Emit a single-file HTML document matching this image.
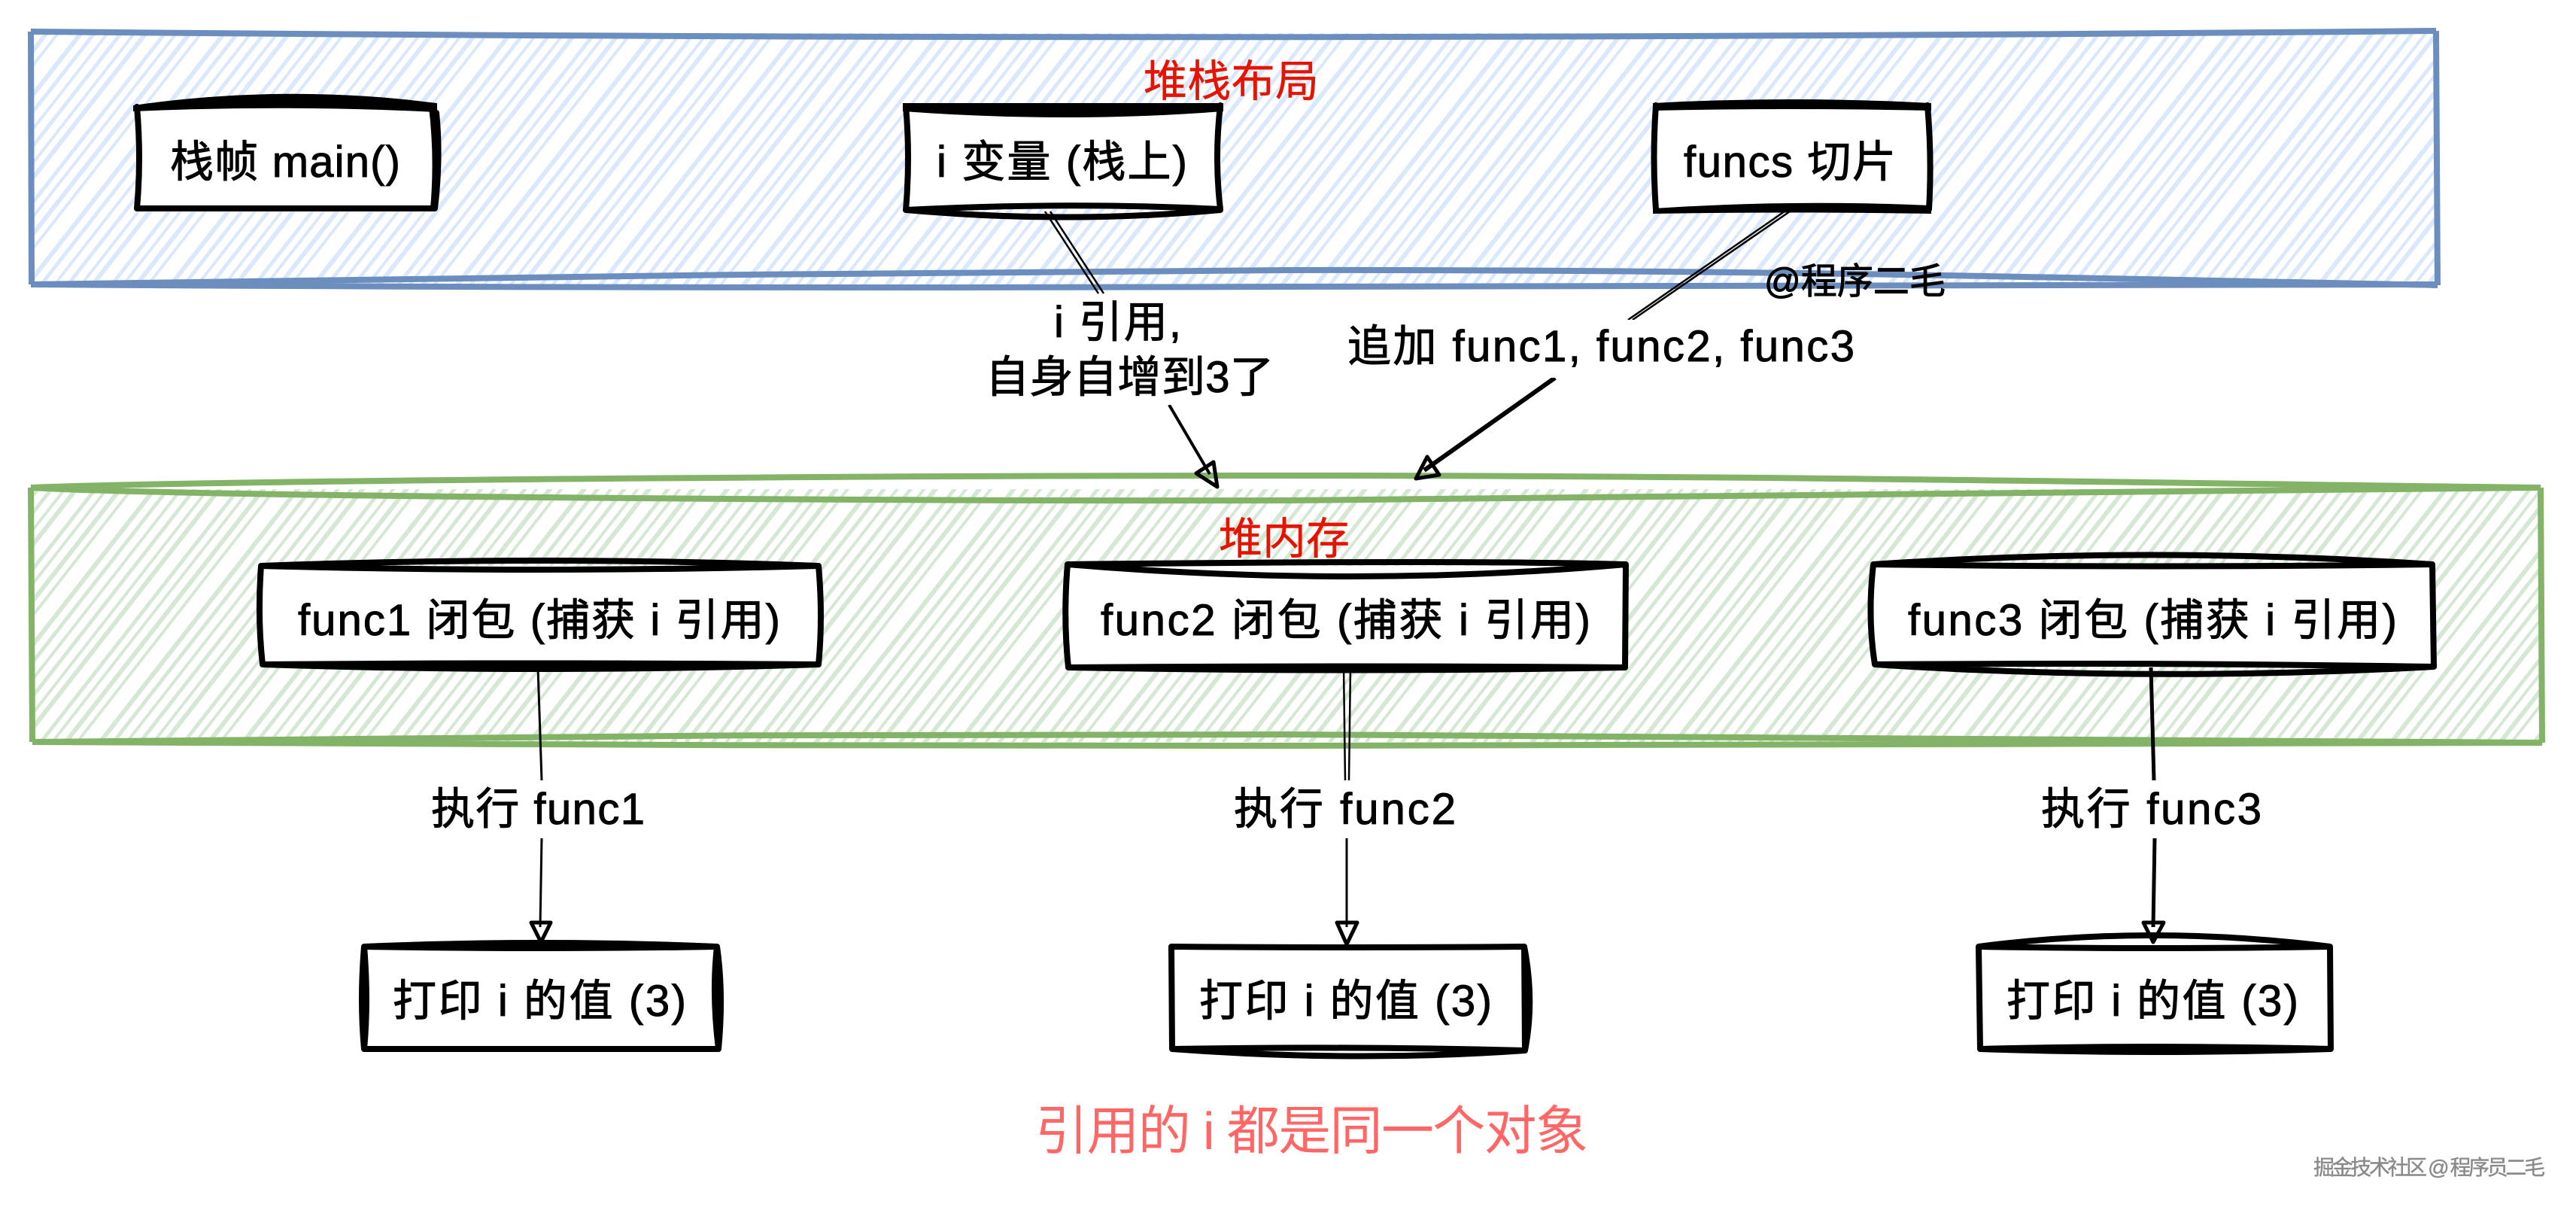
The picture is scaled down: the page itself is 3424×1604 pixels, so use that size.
<!DOCTYPE html>
<html lang="zh">
<head>
<meta charset="utf-8">
<title>堆栈布局</title>
<style>
html,body{margin:0;padding:0;background:#fff;}
svg{display:block;}
text{font-family:"Liberation Sans","Noto Sans CJK SC",sans-serif;fill:#000;stroke:#000;stroke-width:1;font-size:58px;}
.r{fill:#e51400;stroke:#e51400;stroke-width:.5;}
.b{fill:#fff;stroke:none;}
.k{fill:none;stroke:#000;stroke-width:8;stroke-linejoin:round;stroke-linecap:round;}
.t{fill:none;stroke:#000;stroke-width:2.5;}
.a{fill:none;stroke:#000;stroke-width:5;stroke-linejoin:round;}
</style>
</head>
<body>
<svg width="3424" height="1604" viewBox="0 0 3424 1604" xmlns="http://www.w3.org/2000/svg">
<defs>
<pattern id="hb" patternUnits="userSpaceOnUse" width="150" height="150" patternTransform="rotate(38)">
<g stroke="#dae8fc" fill="none">
<line x1="4" y1="0" x2="4" y2="150" stroke-width="5"/>
<line x1="18" y1="0" x2="18" y2="150" stroke-width="4"/>
<line x1="30" y1="0" x2="30" y2="150" stroke-width="6"/>
<line x1="50" y1="0" x2="50" y2="150" stroke-width="5"/>
<line x1="62" y1="0" x2="62" y2="150" stroke-width="4"/>
<line x1="76" y1="0" x2="76" y2="150" stroke-width="6"/>
<line x1="88" y1="0" x2="88" y2="150" stroke-width="4"/>
<line x1="112" y1="0" x2="112" y2="150" stroke-width="6"/>
<line x1="126" y1="0" x2="126" y2="150" stroke-width="5"/>
<line x1="140" y1="0" x2="140" y2="150" stroke-width="4"/>
</g>
</pattern>
<pattern id="hg" patternUnits="userSpaceOnUse" width="150" height="150" patternTransform="rotate(38)">
<g stroke="#d5e8d4" fill="none">
<line x1="4" y1="0" x2="4" y2="150" stroke-width="5"/>
<line x1="18" y1="0" x2="18" y2="150" stroke-width="4"/>
<line x1="30" y1="0" x2="30" y2="150" stroke-width="6"/>
<line x1="50" y1="0" x2="50" y2="150" stroke-width="5"/>
<line x1="62" y1="0" x2="62" y2="150" stroke-width="4"/>
<line x1="76" y1="0" x2="76" y2="150" stroke-width="6"/>
<line x1="88" y1="0" x2="88" y2="150" stroke-width="4"/>
<line x1="112" y1="0" x2="112" y2="150" stroke-width="6"/>
<line x1="126" y1="0" x2="126" y2="150" stroke-width="5"/>
<line x1="140" y1="0" x2="140" y2="150" stroke-width="4"/>
</g>
</pattern>
</defs>
<rect width="3424" height="1604" fill="#fff"/>

<!-- blue container -->
<rect x="42" y="44" width="3196" height="334" fill="url(#hb)"/>
<g fill="none" stroke="#6c8ebf" stroke-width="8" stroke-linejoin="round">
<path d="M41 42 Q1600 57 3238 41"/>
<path d="M41 42 L42 378"/>
<path d="M3238 41 L3240 379"/>
<path d="M41 378 C500 372 1200 360 1712 359 C2300 358 2700 368 3240 379"/>
<path d="M41 378 Q900 384 1700 381 Q2600 379 3240 378"/>
</g>

<!-- green container -->
<rect x="42" y="650" width="3334" height="336" fill="url(#hg)"/>
<g fill="none" stroke="#82b366" stroke-width="8" stroke-linejoin="round">
<path d="M41 648 C300 638 1200 632 1712 632 C2400 632 3000 644 3377 648"/>
<path d="M41 648 C250 660 1200 666 1712 665 C2400 663 3000 654 3377 648"/>
<path d="M41 648 L43 986"/>
<path d="M3377 648 L3379 987"/>
<path d="M43 986 C500 979 1200 975 1712 976 C2400 978 3000 984 3379 987"/>
<path d="M43 986 C500 990 1200 991 1712 991 C2400 991 3000 990 3379 987"/>
</g>

<!-- connector lines -->
<path class="t" d="M1389 281 L1460 390 M1396 281 L1467 390" />
<path d="M1554 538 L1608 630" fill="none" stroke="#000" stroke-width="4"/>
<path class="t" d="M2372 281 L2164 425"/>
<path class="t" d="M2379 281 L2170 425"/>
<path d="M2067 502 L1893 625" fill="none" stroke="#000" stroke-width="6"/>
<path d="M715 887 L720 1037 M720 1114 L718 1232" fill="none" stroke="#000" stroke-width="3"/>
<path class="t" d="M1786 887 L1788 1037 M1795 887 L1793 1037"/>
<path d="M1790 1114 L1790 1232" fill="none" stroke="#000" stroke-width="3"/>
<path d="M2859 887 L2863 1037 M2864 1114 L2862 1232" fill="none" stroke="#000" stroke-width="5"/>

<!-- stack boxes -->
<path class="b" d="M180 139 H577 V280 H180 Z"/>
<path class="k" d="M182 142 Q188 210 182 277 H576 Q582 210 574 142 M580 150 Q586 210 578 277"/>
<path d="M178 141 Q380 112 580 138 L580 148 Q380 138 178 147Z" fill="#000" stroke="#000" stroke-width="2"/>
<path class="b" d="M1203 142 H1623 V278 H1203 Z"/>
<path class="k" d="M1204 141 Q1210 210 1204 279 Q1420 268 1622 278 Q1614 210 1622 140 M1204 279 Q1420 298 1622 279"/>
<path d="M1201 138 H1625 L1625 147 Q1420 163 1201 147Z" fill="#000" stroke="#000" stroke-width="2"/>
<path class="b" d="M2200 139 H2564 V279 H2200 Z"/>
<path class="k" d="M2201 140 Q2196 210 2201 278 M2562 140 Q2568 210 2564 278"/>
<path d="M2198 138 Q2380 128 2566 138 L2566 146 Q2380 142 2198 146Z" fill="#000" stroke="#000" stroke-width="2"/>
<path d="M2198 278 Q2380 266 2566 274 L2566 283 Q2380 280 2198 283Z" fill="#000" stroke="#000" stroke-width="2"/>

<!-- heap boxes -->
<path class="b" d="M349 752 H1088 V885 H349 Z"/>
<path class="k" d="M347 752 Q342 820 349 883 Q700 880 1088 883 Q1094 820 1088 752 Q720 762 347 752 Q720 738 1088 752 M349 883 Q720 895 1088 883"/>
<path class="b" d="M1421 752 H2160 V885 H1421 Z"/>
<path class="k" d="M1419 750 Q1413 820 1420 887 Q1800 884 2160 887 L2161 750 Q1950 744 1419 750 Q1800 782 2161 750 M1420 887 Q1800 894 2160 887"/>
<path class="b" d="M2491 752 H3233 V885 H2491 Z"/>
<path class="k" d="M2490 750 Q2482 820 2492 883 Q2860 880 3235 886 L3233 750 Q2860 755 2490 750 Q2860 725 3233 750 M2492 883 Q2860 907 3235 886"/>

<!-- print boxes -->
<path class="b" d="M485 1258 H953 V1394 H485 Z"/>
<path class="k" d="M484 1258 Q490 1330 484 1394 H955 Q946 1320 953 1258 Q720 1262 484 1258 Q720 1248 953 1258 Q962 1320 955 1394 M484 1258 Q478 1330 484 1394"/>
<path class="b" d="M1558 1258 H2028 V1394 H1558 Z"/>
<path class="k" d="M1557 1258 L1558 1394 Q1800 1390 2027 1396 L2026 1258 Q1800 1260 1557 1258 M2026 1258 Q2040 1330 2027 1396 Q1800 1412 1558 1394"/>
<path class="b" d="M2629 1258 H3098 V1394 H2629 Z"/>
<path class="k" d="M2630 1258 L2632 1394 Q2860 1388 3098 1394 L3097 1258 Q2860 1262 2630 1258 Q2860 1228 3097 1258 M2632 1394 Q2860 1402 3098 1394"/>

<!-- arrowheads -->
<path class="a" d="M1590 629 L1613 614 L1618 647 Z"/>
<path class="a" d="M1897 607 L1913 631 L1882 636 Z"/>
<path class="a" d="M706 1226 L732 1226 L719 1252 Z"/>
<path class="a" d="M1777 1226 L1804 1226 L1790 1255 Z"/>
<path class="a" d="M2849 1226 L2876 1226 L2862 1252 Z"/>

<!-- labels -->
<text class="r" x="1520" y="128" textLength="233">堆栈布局</text>
<text class="r" x="1620" y="736" textLength="174">堆内存</text>
<text x="226" y="235" textLength="306">栈帧 main()</text>
<text x="1245" y="235" textLength="333">i 变量 (栈上)</text>
<text x="2238" y="235" textLength="282">funcs 切片</text>

<rect x="1300" y="392" width="400" height="146" fill="#fff"/>
<text x="1401" y="448" textLength="169">i 引用,</text>
<text x="1310" y="521" textLength="383">自身自增到3了</text>

<rect x="1785" y="425" width="686" height="77" fill="#fff"/>
<text x="1791" y="480" textLength="674">追加 func1, func2, func3</text>
<text x="2345" y="390" textLength="241" style="font-size:48px">@程序二毛</text>

<text x="396" y="844" textLength="641">func1 闭包 (捕获 i 引用)</text>
<text x="1463" y="844" textLength="651">func2 闭包 (捕获 i 引用)</text>
<text x="2536" y="844" textLength="650">func3 闭包 (捕获 i 引用)</text>

<text x="573" y="1095" textLength="284">执行 func1</text>
<text x="1640" y="1095" textLength="295">执行 func2</text>
<text x="2713" y="1095" textLength="293">执行 func3</text>

<text x="522" y="1350" textLength="390">打印 i 的值 (3)</text>
<text x="1594" y="1350" textLength="389">打印 i 的值 (3)</text>
<text x="2667" y="1350" textLength="388">打印 i 的值 (3)</text>

<text x="1376" y="1527" textLength="735" style="font-size:70px;fill:#ff6666;stroke:none">引用的 i 都是同一个对象</text>
<text x="3075" y="1561" textLength="308" style="font-size:28px;fill:#8a8a8a;stroke:#8a8a8a;stroke-width:.4">掘金技术社区 @ 程序员二毛</text>
</svg>
</body>
</html>
